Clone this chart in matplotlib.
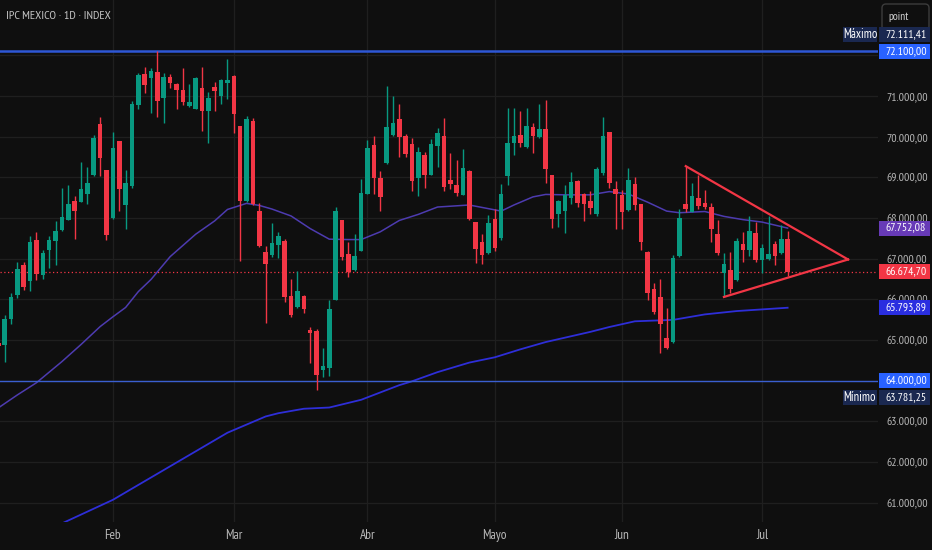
import matplotlib
matplotlib.use("Agg")
import matplotlib.pyplot as plt
from matplotlib.transforms import IdentityTransform
from matplotlib.patches import FancyBboxPatch, Rectangle

# daily candles, IPC MEXICO (bar index 0 .. 124)
opens = [64930, 64870, 65520, 66100, 66840, 66460, 67460, 66610, 67220, 67440,
         67710, 67960, 68430, 68400, 68590, 69060, 70300, 69180, 67990, 69890,
         68330, 68790, 70790, 71540, 71450, 71590, 70960, 71470, 71290, 71160,
         70760, 70690, 71190, 70640, 71230, 71000, 71310, 71500, 70260, 68420,
         70380, 68180, 67170, 67080, 67340, 67430, 66090, 65820, 66090, 65250,
         65210, 64270, 64320, 65990, 67940, 67110, 66710, 67200, 68590, 69800,
         68990, 69350, 70040, 70440, 70020, 69820, 68990, 69560, 69070, 69780,
         70020, 68930, 68810, 68570, 69160, 67910, 67410, 67130, 67980, 67520,
         69040, 69840, 70040, 69740, 70230, 69980, 70190, 69060, 68090, 68180,
         68480, 68920, 68580, 68420, 68090, 69110, 70120, 68720, 68560, 68190,
         68830, 68350, 67170, 66260, 66070, 65040, 64950, 67060, 68350, 68160,
         68480, 68380, 68260, 67610, 66650, 66720, 66470, 67360, 67220, 67630,
         66970, 66980, 67360, 67140, 67490]
highs = [64960, 65610, 66150, 66930, 66910, 67560, 67650, 67210, 67560, 67930,
         68750, 68800, 68540, 69370, 69250, 70030, 70490, 69180, 70120, 69890,
         69180, 70880, 71560, 71710, 71680, 72111.41, 71560, 71540, 71310, 71690,
         71290, 71470, 71710, 71110, 71340, 71430, 71910, 71520, 70260, 70510,
         70470, 68360, 67300, 67870, 67660, 67480, 66500, 66700, 66100, 65330,
         65280, 64800, 65980, 68280, 67940, 67420, 67610, 68960, 69920, 70010,
         69160, 71250, 71000, 70800, 70070, 69960, 69740, 69630, 69940, 70210,
         70450, 69590, 69430, 69690, 69180, 67910, 67610, 68070, 68210, 68830,
         70710, 70700, 70640, 70700, 70330, 70800, 70900, 69060, 68440, 68810,
         69120, 68930, 68610, 68660, 69260, 70480, 70120, 68910, 68680, 69240,
         69000, 68350, 67180, 66410, 66500, 65780, 67100, 68230, 69280, 68860,
         69050, 68680, 68370, 67940, 67130, 67160, 67510, 67650, 68060, 67900,
         67360, 68060, 67430, 67820, 67690]
lows = [64820, 64470, 65390, 66040, 66230, 66210, 66480, 66510, 66780, 66840,
        67690, 67950, 67490, 68390, 68350, 69040, 69040, 67460, 67980, 68180,
        67730, 68750, 70670, 71080, 70590, 70480, 70340, 71190, 70680, 70780,
        70720, 70680, 70150, 69850, 70640, 70800, 70930, 70100, 66940, 68400,
        68320, 67280, 65430, 67030, 67010, 65940, 65570, 65790, 65670, 64440,
        63781.25, 64100, 64120, 65980, 66970, 66560, 66700, 67180, 68580, 68590,
        68180, 69340, 70020, 69510, 69490, 68660, 68540, 68730, 69050, 69250,
        68660, 68710, 68540, 68560, 67950, 66900, 66870, 67120, 67200, 67460,
        68800, 69550, 69740, 69710, 69590, 69960, 68850, 67750, 67790, 67620,
        68340, 68260, 67930, 68100, 68050, 69060, 68750, 67720, 67730, 68170,
        68200, 67220, 65980, 65650, 64670, 64790, 64930, 67050, 68150, 68150,
        68230, 68230, 67400, 67100, 66060, 66150, 66460, 66930, 67070, 66910,
        66660, 66970, 66840, 67120, 66580]
closes = [64850, 65520, 66050, 66740, 66310, 67410, 66620, 67150, 67460, 67670,
          68020, 68340, 68180, 68710, 68860, 69970, 69470, 67590, 69730, 68710,
          68860, 70800, 71520, 71260, 71620, 70880, 71470, 71330, 71150, 70850,
          70850, 71450, 70620, 70950, 71120, 71390, 71390, 70570, 68420, 70430,
          68340, 67300, 66870, 67390, 67560, 66060, 65610, 66200, 65770, 65170,
          64130, 64350, 65760, 68170, 67030, 66670, 67070, 68620, 69710, 68980,
          68520, 70230, 70330, 70000, 69570, 68920, 69630, 69070, 69820, 70090,
          68770, 68840, 68610, 69230, 67970, 67250, 67090, 67870, 67270, 68590,
          69850, 70020, 69840, 70260, 70020, 70190, 69200, 67970, 68420, 68570,
          68890, 68380, 68340, 68250, 69210, 70020, 68850, 68580, 68140, 68930,
          68310, 67400, 66150, 65690, 65400, 64800, 67010, 68000, 68210, 68530,
          68300, 68270, 67720, 67130, 66870, 66260, 67430, 67220, 67680, 66970,
          67260, 67120, 67060, 67490, 66674.70]

# moving averages (bar index, value)
ma50_idx = [0, 3, 6, 10, 13, 16, 18, 20, 22, 24, 27, 31, 34, 36, 39, 41, 43, 46, 49,
            52, 55, 57, 60, 63, 66, 69, 74, 76, 79, 81, 84, 86, 89, 93, 96, 99, 102,
            105, 107, 111, 114, 117, 120, 124]
ma50_val = [63330, 63650, 63950, 64470, 64890, 65330, 65570, 65800, 66190, 66490,
            67050, 67600, 67930, 68210, 68360, 68310, 68220, 68050, 67740, 67480,
            67470, 67470, 67660, 67940, 68090, 68270, 68320, 68260, 68170, 68320,
            68520, 68580, 68570, 68570, 68650, 68590, 68390, 68170, 68130, 68160,
            68040, 67960, 67900, 67752.08]
ma200_idx = [10, 18, 24, 30, 36, 42, 44, 48, 52, 57, 63, 65, 69, 74, 78, 82, 86, 93,
             96, 100, 106, 111, 116, 124]
ma200_val = [60490, 61070, 61620, 62170, 62720, 63120, 63200, 63310, 63340, 63530,
             63890, 63985, 64210, 64445, 64575, 64770, 64950, 65200, 65320, 65460,
             65495, 65630, 65712, 65793.89]

# triangle drawn on the chart
tri_x = [108, 133.5, 114]
tri_y = [69276, 66980, 66059]

month_idx = [18, 37, 58, 78, 98, 120]
month_lbl = ["Feb", "Mar", "Abr", "Mayo", "Jun", "Jul"]

max_price = 72111.41
min_price = 63781.25
hline_top = 72100
hline_low = 64000
last_close = closes[-1]

BG = "#0f0f0f"
GRID = "#1f1f1f"
TXT = "#b8b8b8"
UP = "#089981"
DOWN = "#f23645"
FONT = ["PT Sans Narrow", "DejaVu Sans"]

plt.rcParams["font.family"] = FONT


def fmt(v):
    return f"{v:,.2f}".replace(",", "X").replace(".", ",").replace("X", ".")


fig = plt.figure(figsize=(9.32, 5.5), dpi=100, facecolor=BG)
ax = fig.add_axes([0, 1 - 522 / 550, 878 / 932, 522 / 550], facecolor=BG)

n = len(opens)

# candles
for i in range(n):
    o, h, l, c = opens[i], highs[i], lows[i], closes[i]
    col = UP if c >= o else DOWN
    ax.vlines(i, l, h, color=col, lw=1, zorder=3)
    body = max(abs(c - o), 22)
    ax.bar(i, body, bottom=min(o, c), width=0.72, color=col, lw=0, zorder=4)

# moving averages
ax.plot(ma50_idx, ma50_val, color="#4d3bb0", lw=1.1, zorder=2)
ax.plot(ma200_idx, ma200_val, color="#2e2ed8", lw=1.3, zorder=2)

# horizontal levels
ax.axhline(hline_top, color="#2e57d6", lw=1.8, zorder=2)
ax.axhline(hline_low, color="#3a5fd0", lw=1, zorder=2)
ax.axhline(last_close, color=DOWN, lw=0.9, ls=(0, (1, 2)), zorder=2)

# triangle
ax.plot(tri_x[:2], tri_y[:2], color=DOWN, lw=1.6, zorder=5)
ax.plot(tri_x[1:], tri_y[1:], color=DOWN, lw=1.6, zorder=5)

ax.set_xlim(0.27, 138.2)
ax.set_ylim(60525, 73361)

yt = list(range(61000, 73000, 1000))
ax.set_yticks(yt)
ax.set_yticklabels(["" if v in (64000, 72000) else fmt(v) for v in yt])
ax.yaxis.tick_right()
ax.set_xticks(month_idx)
ax.set_xticklabels(month_lbl)
ax.tick_params(axis="both", length=0, colors=TXT, labelsize=8.5)
ax.tick_params(axis="x", labelsize=9.5, pad=5)
ax.tick_params(axis="y", pad=5.8)
ax.grid(True, color=GRID, lw=0.9)
ax.set_axisbelow(True)
for s in ax.spines.values():
    s.set_visible(False)

W, H = 932, 550


def tag(price, fc, dy=0, side=None):
    yd = ax.transData.transform((0, price))[1] + dy
    fig.add_artist(Rectangle((879, yd - 7.5), 51, 15, transform=IdentityTransform(),
                             fc=fc, ec="none", zorder=10))
    fig.text(885 / W, yd / H, fmt(price), color="white", fontsize=8.5,
             ha="left", va="center", zorder=11)
    if side:
        fig.add_artist(Rectangle((843, yd - 7.5), 34, 15, transform=IdentityTransform(),
                                 fc=fc, ec="none", zorder=10))
        fig.text(860 / W, yd / H, side, color="white", fontsize=9,
                 ha="center", va="center", zorder=11)


tag(max_price, "#1a2850", dy=16.4, side="Máximo")
tag(hline_top, "#2962ff")
tag(ma50_val[-1], "#673ab7")
tag(last_close, DOWN)
tag(ma200_val[-1], "#2a2ee0")
tag(hline_low, "#2962ff")
tag(min_price, "#1a2850", dy=-8.4, side="Mínimo")

fig.text(6 / W, 1 - 16 / H, "IPC MEXICO · 1D · INDEX", color="#c4c4c4",
         fontsize=8.8, va="center", ha="left")

fig.add_artist(FancyBboxPatch((882, H - 30), 47, 26, boxstyle="round,pad=0,rounding_size=4",
                              transform=IdentityTransform(), fc=BG, ec="#3c3c3c", lw=1))
fig.text(888 / W, 1 - 17 / H, "point", color="#d0d0d0", fontsize=8.2,
         va="center", ha="left")

fig.savefig("out.png", dpi=100, facecolor=BG)
